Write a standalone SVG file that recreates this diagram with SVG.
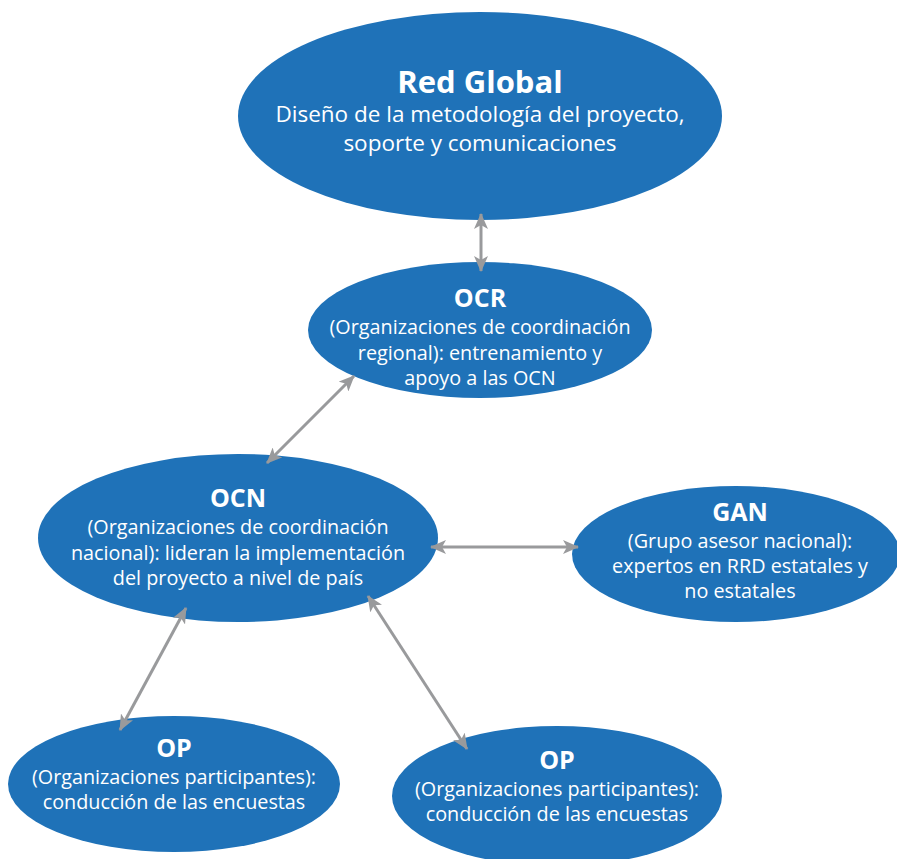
<svg xmlns="http://www.w3.org/2000/svg" width="897" height="859" viewBox="0 0 897 859">
<defs>
<marker id="ah" viewBox="0 0 16 14" refX="15" refY="7" markerWidth="16" markerHeight="14" markerUnits="userSpaceOnUse" orient="auto-start-reverse">
<path d="M0,0 L16,7 L0,14 L4,7 Z" fill="#999a9c"/>
</marker>
<style>
.n{fill:#1f72b8}
.t{font-family:"Open Sans","Liberation Sans",sans-serif;fill:#fff;text-anchor:middle}
.b{font-weight:bold;font-size:25px}
.s{font-size:19.8px}
.c{stroke:#999a9c;stroke-width:3;fill:none;marker-start:url(#ah);marker-end:url(#ah)}
</style>
</defs>
<rect width="897" height="859" fill="#fff"/>
<g id="red-global">
<ellipse class="n" cx="480" cy="116" rx="242" ry="104"/>
<text class="t b" x="480" y="93" style="font-size:31px">Red Global</text>
<text class="t" x="480" y="122" style="font-size:22.5px">Diseño de la metodología del proyecto,</text>
<text class="t" x="480" y="151" style="font-size:22.5px">soporte y comunicaciones</text>
</g>
<g id="ocr">
<ellipse class="n" cx="480" cy="330" rx="172" ry="68"/>
<text class="t b" x="480" y="307">OCR</text>
<text class="t s" x="480" y="334">(Organizaciones de coordinación</text>
<text class="t s" x="480" y="360">regional): entrenamiento y</text>
<text class="t s" x="480" y="385">apoyo a las OCN</text>
</g>
<g id="ocn">
<ellipse class="n" cx="238" cy="538" rx="200" ry="84"/>
<text class="t b" x="238" y="507">OCN</text>
<text class="t s" x="238" y="534">(Organizaciones de coordinación</text>
<text class="t s" x="238" y="560">nacional): lideran la implementación</text>
<text class="t s" x="238" y="585">del proyecto a nivel de país</text>
</g>
<g id="gan">
<ellipse class="n" cx="736" cy="554" rx="164" ry="68"/>
<text class="t b" x="740" y="521">GAN</text>
<text class="t s" x="740" y="548">(Grupo asesor nacional):</text>
<text class="t s" x="740" y="573">expertos en RRD estatales y</text>
<text class="t s" x="740" y="598">no estatales</text>
</g>
<g id="op-left">
<ellipse class="n" cx="174" cy="784" rx="166" ry="68"/>
<text class="t b" x="174" y="757">OP</text>
<text class="t s" x="174" y="784">(Organizaciones participantes):</text>
<text class="t s" x="174" y="809">conducción de las encuestas</text>
</g>
<g id="op-right">
<ellipse class="n" cx="557" cy="796" rx="165" ry="70"/>
<text class="t b" x="557" y="769">OP</text>
<text class="t s" x="557" y="796">(Organizaciones participantes):</text>
<text class="t s" x="557" y="821">conducción de las encuestas</text>
</g>
<g id="connectors">
<line class="c" x1="481" y1="214" x2="481" y2="271"/>
<line class="c" x1="354" y1="376" x2="267" y2="463"/>
<line class="c" x1="431" y1="547" x2="578" y2="547"/>
<line class="c" x1="186" y1="608" x2="120" y2="730"/>
<line class="c" x1="368" y1="596" x2="467" y2="749"/>
</g>
</svg>
